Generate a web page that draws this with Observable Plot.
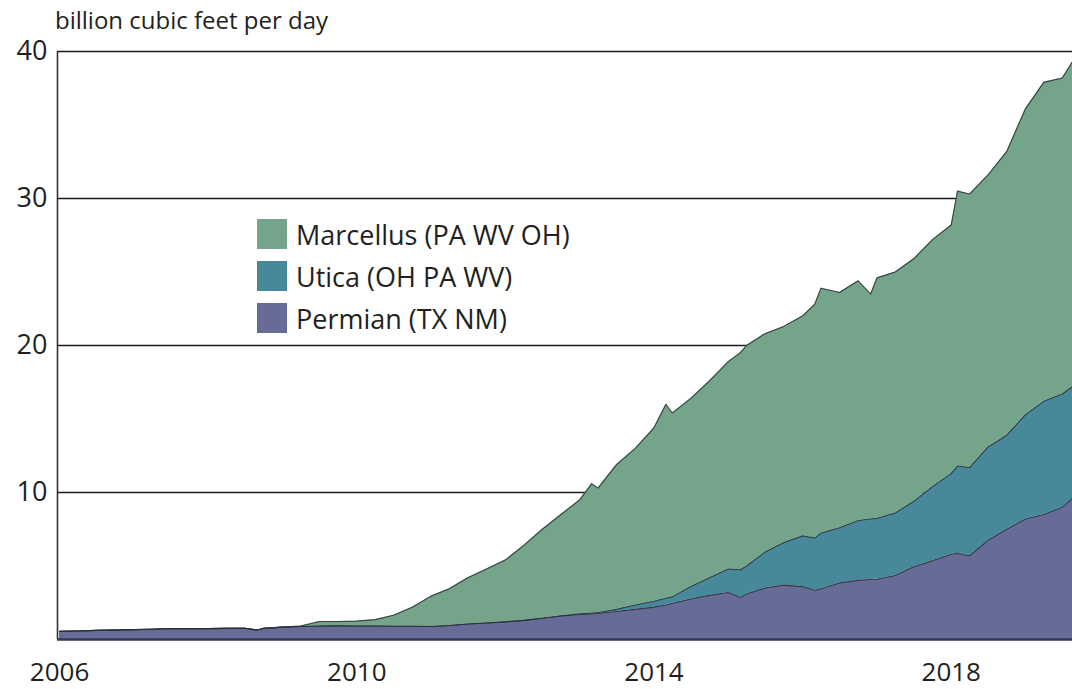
<!DOCTYPE html>
<html>
<head>
<meta charset="utf-8">
<script src="https://cdn.jsdelivr.net/npm/d3@7"></script>
<script src="https://cdn.jsdelivr.net/npm/@observablehq/plot@0.6"></script>
<style>
  html, body { margin: 0; padding: 0; background: #fff; }
  #wrap { position: relative; width: 1072px; height: 689px; font-family: "Open Sans", sans-serif; color: #231f20; }
  #ylabel { position: absolute; left: 55px; top: 4px; font-size: 24px; line-height: 32px; white-space: nowrap; }
  #legend { position: absolute; left: 257px; top: 213px; font-size: 27px; }
  .row { display: flex; align-items: center; height: 42px; }
  .sw { width: 30px; height: 30px; margin-right: 9px; flex: none; }
</style>
</head>
<body>
<div id="wrap">
  <div id="chart"></div>
  <div id="ylabel">billion cubic feet per day</div>
  <div id="legend"></div>
</div>
<script>
// ---- data ----
const seriesNames = ["Marcellus (PA WV OH)", "Utica (OH PA WV)", "Permian (TX NM)"];
const seriesColors = ["#74a58b", "#47889a", "#666c97"];
const stackOrder = ["Permian (TX NM)", "Utica (OH PA WV)", "Marcellus (PA WV OH)"];

const dates = [
  "2006-01-01","2006-04-01","2006-07-01","2006-10-01",
  "2007-01-01","2007-04-01","2007-07-01","2007-10-01",
  "2008-01-01","2008-04-01","2008-07-01","2008-09-01","2008-10-01",
  "2009-01-01","2009-04-01","2009-07-01","2009-10-01",
  "2010-01-01","2010-04-01","2010-07-01","2010-10-01",
  "2011-01-01","2011-04-01","2011-07-01","2011-10-01",
  "2012-01-01","2012-04-01","2012-07-01","2012-10-01",
  "2013-01-01","2013-03-01","2013-04-01","2013-07-01","2013-10-01",
  "2014-01-01","2014-03-01","2014-04-01","2014-07-01","2014-10-01",
  "2015-01-01","2015-03-01","2015-04-01","2015-07-01","2015-10-01",
  "2016-01-01","2016-03-01","2016-04-01","2016-07-01","2016-10-01","2016-12-01",
  "2017-01-01","2017-04-01","2017-07-01","2017-10-01",
  "2018-01-01","2018-02-01","2018-04-01","2018-07-01","2018-10-01",
  "2019-01-01","2019-04-01","2019-07-01","2019-08-20"
];

const permian = [
  0.55,0.58,0.62,0.64,
  0.67,0.70,0.75,0.74,
  0.74,0.76,0.76,0.64,0.76,
  0.84,0.88,0.92,0.93,
  0.92,0.92,0.90,0.90,
  0.88,0.95,1.05,1.12,
  1.20,1.30,1.45,1.60,
  1.70,1.74,1.77,1.90,2.05,
  2.20,2.35,2.45,2.75,3.00,
  3.20,2.85,3.10,3.50,3.70,
  3.60,3.33,3.45,3.85,4.02,4.08,
  4.10,4.35,4.95,5.35,
  5.80,5.85,5.70,6.75,7.50,
  8.20,8.50,9.00,9.60
];

const utica = [
  0,0,0,0,
  0,0,0,0,
  0,0,0,0,0,
  0,0,0,0,
  0,0,0,0,
  0,0,0,0,
  0,0,0,0.02,
  0.04,0.06,0.07,0.15,0.30,
  0.40,0.45,0.45,0.85,1.20,
  1.60,1.90,1.90,2.45,2.90,
  3.45,3.57,3.80,3.75,4.08,4.12,
  4.15,4.25,4.45,5.05,
  5.50,5.95,6.00,6.35,6.40,
  7.10,7.70,7.70,7.60
];

const marcellus = [
  0,0,0,0,
  0,0,0,0,
  0,0,0,0,0,
  0,0.04,0.30,0.29,
  0.33,0.43,0.75,1.30,
  2.07,2.50,3.15,3.68,
  4.20,5.10,6.05,6.88,
  7.76,8.80,8.46,9.85,10.65,
  11.80,13.20,12.50,12.80,13.40,
  14.10,14.75,15.00,14.85,14.70,
  14.95,15.90,16.65,16.00,16.30,15.30,
  16.35,16.40,16.50,16.80,
  16.90,18.70,18.60,18.50,19.30,
  20.80,21.70,21.50,22.10
];

const yTicks = [10, 20, 30, 40];
const xTickYears = [2006, 2010, 2014, 2018];
const xStart = "2005-12-22";
const xEnd = "2019-08-20";

// ---- build tidy table ----
const valuesBySeries = {
  "Marcellus (PA WV OH)": marcellus,
  "Utica (OH PA WV)": utica,
  "Permian (TX NM)": permian
};
const table = [];
for (const name of stackOrder) {
  dates.forEach((d, i) => table.push({date: new Date(d), series: name, value: valuesBySeries[name][i]}));
}

const x0 = new Date(xStart);
const chart = Plot.plot({
  width: 1072,
  height: 689,
  marginLeft: 57,
  marginRight: 0,
  marginTop: 51,
  marginBottom: 50,
  style: {fontFamily: "Open Sans, sans-serif", color: "#231f20", background: "transparent"},
  x: {type: "utc", domain: [x0, new Date(xEnd)]},
  y: {domain: [0, 40]},
  color: {domain: seriesNames, range: seriesColors},
  marks: [
    Plot.ruleY(yTicks, {stroke: "#1b1b1b", strokeWidth: 1.6}),
    Plot.areaY(table, Plot.stackY({x: "date", y: "value", z: "series", fill: "series", order: stackOrder})),
    Plot.lineY(table, Plot.stackY2({x: "date", y: "value", z: "series", order: stackOrder, stroke: "#2b313a", strokeWidth: 1.1, strokeOpacity: 0.85})),
    Plot.ruleX([x0], {y1: 0, y2: 40, stroke: "#333", strokeWidth: 1.6}),
    Plot.ruleY([0], {stroke: "#35384f", strokeWidth: 2.5}),
    Plot.axisX(xTickYears.map(y => new Date(Date.UTC(y, 0, 1))), {tickSize: 0, tickPadding: 23, fontSize: 26, tickFormat: d => String(d.getUTCFullYear()), label: null}),
    Plot.axisY(yTicks, {tickSize: 0, tickPadding: 10, fontSize: 27, label: null})
  ]
});
document.getElementById("chart").appendChild(chart);

// legend
const legend = document.getElementById("legend");
seriesNames.forEach((name, i) => {
  const row = document.createElement("div");
  row.className = "row";
  const sw = document.createElement("div");
  sw.className = "sw";
  sw.style.background = seriesColors[i];
  const tx = document.createElement("span");
  tx.textContent = name;
  row.appendChild(sw);
  row.appendChild(tx);
  legend.appendChild(row);
});
</script>
</body>
</html>
